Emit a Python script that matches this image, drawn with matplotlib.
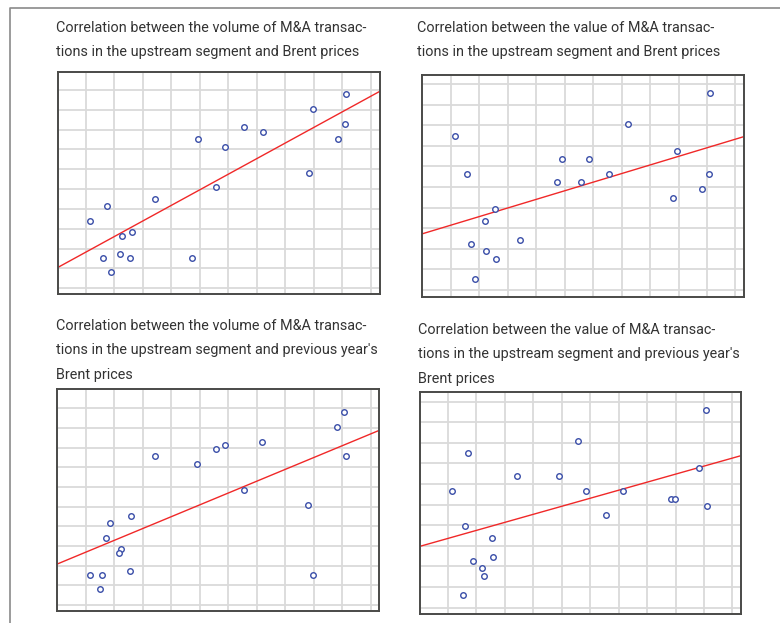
import numpy as np
import matplotlib
matplotlib.use("Agg")
import matplotlib.pyplot as plt
from matplotlib.lines import Line2D

plt.rcParams['font.family'] = ['Liberation Sans Narrow', 'Roboto', 'DejaVu Sans']

# Data, in grid units (one grid cell = 1)
# Brent prices (x) and volume / value of M&A transactions (y)
brent_x = [10.13, 8.98, 10.09, 9.86, 6.56, 7.20, 4.92, 5.87, 8.82, 5.57,
           3.43, 1.73, 1.15, 2.27, 2.60, 2.21, 1.59, 2.55, 1.88, 4.73]
volume_y = [9.78, 9.03, 8.27, 7.55, 8.12, 7.88, 7.55, 7.14, 5.83, 5.09,
            4.50, 4.17, 3.41, 2.64, 2.86, 1.75, 1.55, 1.55, 0.84, 1.55]

brent_x2 = [10.12, 1.15, 7.21, 8.96, 4.89, 5.85, 1.58, 6.56, 10.07, 4.72,
            5.56, 9.84, 8.81, 2.55, 2.20, 3.43, 1.72, 2.25, 2.59, 1.86]
value_y = [9.56, 7.49, 8.06, 6.75, 6.36, 6.36, 5.63, 5.61, 5.63, 5.23,
           5.23, 4.89, 4.48, 3.93, 3.37, 2.43, 2.23, 1.89, 1.49, 0.55]

# previous year's Brent prices
prev_brent_x = [10.07, 9.83, 10.12, 7.19, 5.87, 5.56, 3.43, 4.91, 6.55, 8.80,
                2.58, 1.86, 1.71, 2.24, 2.18, 2.54, 1.15, 1.57, 1.50, 8.96]
prev_volume_y = [9.80, 9.03, 7.58, 8.31, 8.14, 7.92, 7.58, 7.15, 5.85, 5.08,
                 4.51, 4.15, 3.42, 2.85, 2.63, 1.71, 1.51, 1.51, 0.80, 1.51]

prev_brent_x2 = [10.07, 5.56, 1.72, 9.84, 3.42, 4.91, 1.16, 5.87, 7.17, 8.84,
                 8.98, 10.12, 6.55, 1.59, 2.56, 1.88, 2.60, 2.20, 2.26, 1.54]
prev_value_y = [9.60, 8.09, 7.52, 6.80, 6.39, 6.39, 5.66, 5.66, 5.66, 5.28,
                5.28, 4.92, 4.51, 3.98, 3.40, 2.25, 2.46, 1.93, 1.52, 0.60]

titles = [
    "Correlation between the volume of M&A transac-\ntions in the upstream segment and Brent prices",
    "Correlation between the value of M&A transac-\ntions in the upstream segment and Brent prices",
    "Correlation between the volume of M&A transac-\ntions in the upstream segment and previous year's\nBrent prices",
    "Correlation between the value of M&A transac-\ntions in the upstream segment and previous year's\nBrent prices",
]

W, H = 780, 623
fig = plt.figure(figsize=(W / 100, H / 100), dpi=100)
fig.patch.set_facecolor("white")


def px_axes(left, top, right, bottom):
    """Tạo axes theo toạ độ pixel (gốc ở góc trên bên trái)."""
    return fig.add_axes([left / W, 1 - bottom / H, (right - left) / W, (bottom - top) / H])


def scatter_panel(ax, x, y, xlim, ylim):
    x = np.array(x)
    y = np.array(y)
    ax.set_xlim(*xlim)
    ax.set_ylim(*ylim)
    ax.set_xticks(np.arange(1, 12))
    ax.set_yticks(np.arange(0, 11))
    ax.tick_params(length=0, labelbottom=False, labelleft=False)
    ax.grid(True, color="#dadada", linewidth=1.3)
    ax.set_axisbelow(True)
    for s in ax.spines.values():
        s.set_color("#4a4a48")
        s.set_linewidth(1.4)

    # đường hồi quy tuyến tính
    k, b = np.polyfit(x, y, 1)
    xs = np.array(xlim)
    ax.plot(xs, k * xs + b, color="#f02828", linewidth=1.0, zorder=2)

    ax.plot(x, y, linestyle="none", marker="o", markersize=4.0,
            markerfacecolor="white", markeredgecolor="#3a4ea8",
            markeredgewidth=1.0, zorder=3)


ax1 = px_axes(57.5, 71.7, 380, 294)
scatter_panel(ax1, brent_x, volume_y, (0, 11.32), (-0.29, 10.92))

ax2 = px_axes(422.3, 74.7, 744.3, 296.7)
scatter_panel(ax2, brent_x2, value_y, (0, 11.31), (-0.32, 10.45))

ax3 = px_axes(57.3, 389.3, 379.3, 611.3)
scatter_panel(ax3, prev_brent_x, prev_volume_y, (0, 11.30), (-0.32, 10.97))

ax4 = px_axes(420, 392.3, 741, 614)
scatter_panel(ax4, prev_brent_x2, prev_value_y, (0.02, 11.30), (-0.31, 10.45))

# Tiêu đề của từng biểu đồ
title_pos = [(56, 21), (417, 21), (56, 319), (418, 323)]
for (tx, ty), t in zip(title_pos, titles):
    fig.text(tx / W, 1 - ty / H, t, ha="left", va="top", fontsize=10.4,
             color="#333333", linespacing=1.95)

# Khung ngoài (chỉ cạnh trên và cạnh trái)
fig.add_artist(Line2D([10 / W, 10 / W, 1], [0, 1 - 8 / H, 1 - 8 / H],
                      color="#8a8a8a", linewidth=1.2, transform=fig.transFigure))

fig.savefig("out.png", dpi=100)
